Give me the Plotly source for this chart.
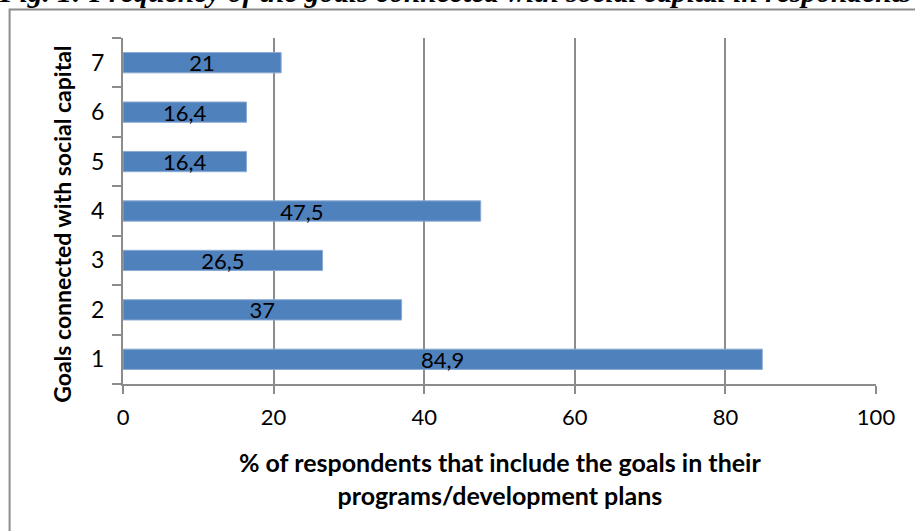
import plotly.graph_objects as go

# goals (categories) and share of respondents, %
goals = ["1", "2", "3", "4", "5", "6", "7"]
share = [84.9, 37, 26.5, 47.5, 16.4, 16.4, 21]
x_ticks = [0, 20, 40, 60, 80, 100]

fig = go.Figure()
fig.add_trace(go.Bar(
    x=share,
    y=goals,
    orientation="h",
    marker=dict(color="#4F81BD", line=dict(color="#8BAAD3", width=1)),
    texttemplate="%{x}",
    textposition="inside",
    insidetextanchor="middle",
    textangle=0,
    constraintext="none",
    textfont=dict(family="Lato", size=22, color="black"),
    cliponaxis=False,
))

fig.update_layout(
    width=915,
    height=531,
    margin=dict(l=123, r=38.5, t=38, b=146.7),
    paper_bgcolor="white",
    plot_bgcolor="white",
    separators=", ",
    bargap=0.59,
    showlegend=False,
    font=dict(family="Lato", size=22, color="black"),
    xaxis=dict(
        range=[0, 100],
        tickvals=x_ticks,
        showgrid=True,
        gridcolor="#8C8C8C",
        gridwidth=2,
        showline=True,
        linecolor="#8C8C8C",
        linewidth=2,
        ticks="outside",
        ticklen=8,
        tickwidth=2,
        tickcolor="#8C8C8C",
        ticklabelstandoff=5,
        zeroline=False,
        tickfont=dict(family="Lato", size=22),
    ),
    yaxis=dict(
        type="category",
        categoryorder="array",
        categoryarray=goals,
        range=[-0.5, 6.5],
        showgrid=False,
        showline=True,
        linecolor="#8C8C8C",
        linewidth=2,
        ticks="outside",
        tickson="boundaries",
        ticklen=9,
        tickwidth=2,
        tickcolor="#8C8C8C",
        ticklabelstandoff=12,
        tickfont=dict(family="Lato", size=23),
    ),
)

# axis titles
fig.add_annotation(
    text="<b>% of respondents that include the goals in their<br>programs/development plans</b>",
    xref="paper", yref="paper", x=0.5, y=-0.2735,
    xanchor="center", yanchor="middle", showarrow=False,
    font=dict(family="Lato", size=25, color="black"),
)
fig.add_annotation(
    text="<b>Goals connected with social capital</b>",
    xref="paper", yref="paper", x=-0.081, y=0.46,
    xanchor="center", yanchor="middle", textangle=-90, showarrow=False,
    font=dict(family="Lato", size=23, color="black"),
)

# figure caption, clipped at the top edge as in the source
fig.add_annotation(
    text="<b><i>Fig. 1: Frequency of the goals connected with social capital in respondents’ programs</i></b>",
    xref="paper", yref="paper", x=-0.1672, y=1.0815,
    xanchor="left", yanchor="bottom", showarrow=False,
    font=dict(family="Liberation Serif", size=29.5, color="black"),
)

# chart frame
fig.add_shape(
    type="rect", xref="paper", yref="paper",
    x0=-0.1506, x1=1.3, y0=-0.6, y1=1.0823,
    line=dict(color="#8C8C8C", width=2), layer="below",
)

# drop the page's default body margin so the figure sits at the top-left corner
fig.write_html(
    "out.html",
    config={"displayModeBar": False},
    post_script="document.body.style.margin='0';",
)
